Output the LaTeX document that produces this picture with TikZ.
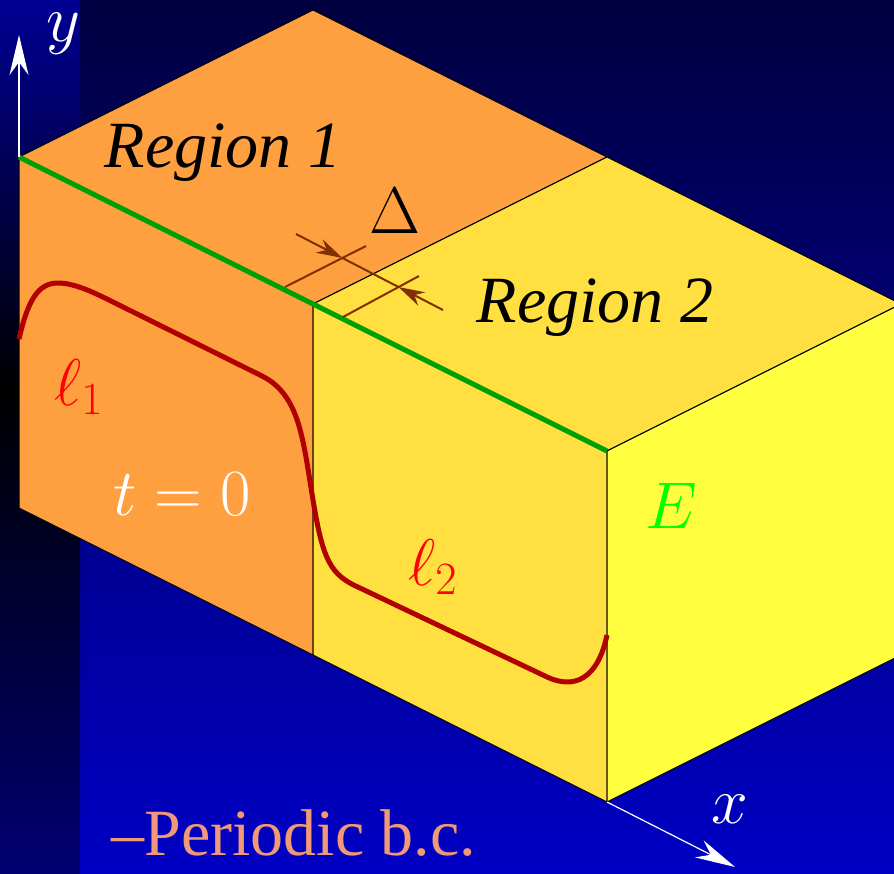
\RequirePackage{fix-cm}
\documentclass[tikz,border=0pt]{standalone}
\usepackage[no-math]{fontspec}
\usetikzlibrary{arrows.meta}
\newfontfamily\timesfont{Liberation Serif}
\definecolor{achtertop}{RGB}{0,0,64}
\definecolor{achteronder}{RGB}{0,0,196}
\definecolor{strookboven}{RGB}{0,0,148}
\definecolor{strookonder}{RGB}{0,0,112}
\definecolor{oranje}{RGB}{255,160,64}
\definecolor{geel}{RGB}{255,224,64}
\definecolor{lichtgeel}{RGB}{255,255,64}
\definecolor{groen}{RGB}{0,160,0}
\definecolor{felgroen}{RGB}{0,255,0}
\definecolor{donkerrood}{RGB}{176,0,0}
\definecolor{bruin}{RGB}{128,48,0}
\definecolor{zalm}{RGB}{240,152,120}
\begin{document}
\begin{tikzpicture}[x=0.5pt, y=-0.5pt, >={Stealth[length=20pt,width=9.5pt]},
    rand/.style={draw=black, line width=0.5pt},
    as/.style={white, line width=0.6pt},
    delta/.style={bruin, line width=1pt},
    lbl/.style={inner sep=0pt, anchor=base, font=\fontsize{33}{40}\selectfont}]

  % Achtergrond
  \useasboundingbox (0,0) rectangle (894,873);
  \clip (0,0) rectangle (894,873);
  \shade[top color=achtertop, bottom color=achteronder] (80,0) rectangle (894,873);
  \shade[top color=strookboven, bottom color=black] (0,0) rectangle (80,390);
  \shade[top color=black, bottom color=strookonder] (0,390) rectangle (80,873);

  % Hoekpunten van het blok
  \coordinate (LT) at (19,157);
  \coordinate (MT) at (313,304);
  \coordinate (RT) at (607,451);
  \coordinate (LB) at (19,508);
  \coordinate (MB) at (313,655);
  \coordinate (RB) at (607,802);
  \coordinate (BL) at (313,10);
  \coordinate (BM) at (607,157);
  \coordinate (BR) at (901,304);
  \coordinate (BRB) at (901,655);

  % Bovenvlak
  \filldraw[rand, fill=oranje] (LT) -- (BL) -- (BM) -- (MT) -- cycle;
  \filldraw[rand, fill=geel] (MT) -- (BM) -- (BR) -- (RT) -- cycle;

  % Voorvlak
  \filldraw[rand, fill=oranje] (LT) -- (MT) -- (MB) -- (LB) -- cycle;
  \filldraw[rand, fill=geel] (MT) -- (RT) -- (RB) -- (MB) -- cycle;

  % Zijvlak
  \filldraw[rand, fill=lichtgeel] (RT) -- (BR) -- (BRB) -- (RB) -- cycle;

  % Profiel
  \draw[donkerrood, line width=2.5pt]
    (19,339) .. controls (28,300) and (38,283) .. (58,283)
    .. controls (75,283) and (95,293) .. (115,303) -- (262,376)
    .. controls (300,395) and (303,440) .. (313,500)
    .. controls (323,560) and (330,575) .. (360,588) -- (545,676)
    .. controls (575,691) and (598,678) .. (607,635);

  % Rand E
  \draw[groen, line width=2.5pt] (LT) -- (RT);

  % Overgangszone
  \coordinate (D1a) at (285,287);
  \coordinate (D1b) at (366,246);
  \coordinate (D2a) at (343,317);
  \coordinate (D2b) at (419,276);
  \coordinate (A1) at (296,234);
  \coordinate (A2) at (443,310);
  \coordinate (X1) at (intersection of A1--A2 and D1a--D1b);
  \coordinate (X2) at (intersection of A1--A2 and D2a--D2b);
  \draw[delta] (D1a) -- (D1b);
  \draw[delta] (D2a) -- (D2b);
  \draw[delta] (X1) -- (X2);
  \draw[delta, -{Stealth[length=13pt,width=7.5pt]}] (A1) -- (X1);
  \draw[delta, -{Stealth[length=13pt,width=7.5pt]}] (A2) -- (X2);

  % Assen
  \coordinate (Ytop) at (19,35);
  \coordinate (Xtop) at (735,867);
  \draw[as, ->] (LT) -- (Ytop);
  \draw[as, ->] (RB) -- (Xtop);
  \node[lbl, white] (ylab) at (63,41) {$y$};
  \node[lbl, white] (xlab) at (730,823) {$x$};

  % Teksten
  \node[lbl] (reg1) at (223,167) {\timesfont\itshape Region 1};
  \node[lbl] (reg2) at (595,322) {\timesfont\itshape Region 2};
  \node[lbl] (dlab) at (395,233) {$\Delta$};
  \node[lbl, red] (l1) at (79,405) {$\ell_1$};
  \node[lbl, red] (l2) at (433,585) {$\ell_2$};
  \node[lbl, white] (tnul) at (182,515) {$t=0$};
  \node[lbl, felgroen] (E) at (671,528) {$E$};
  \node[lbl, anchor=base west, zalm] (pbc) at (111,855) {\timesfont –Periodic b.c.};

\end{tikzpicture}
\end{document}
